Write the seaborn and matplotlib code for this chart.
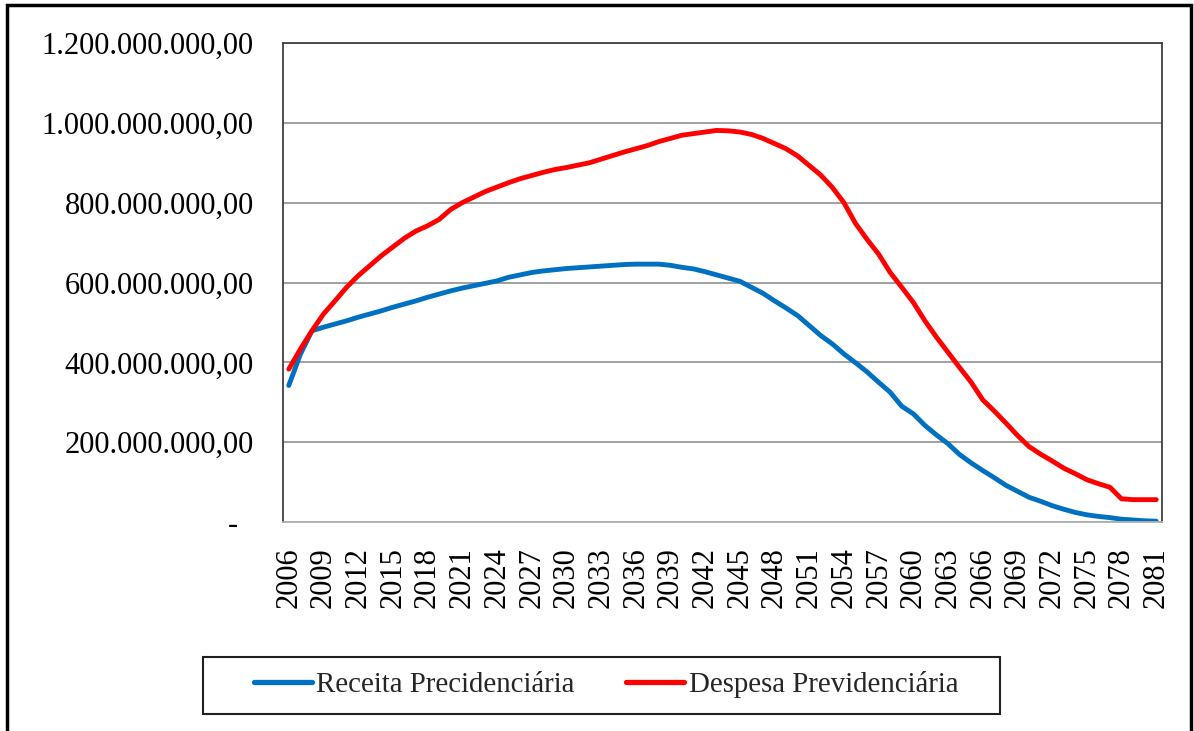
import matplotlib
matplotlib.use("Agg")
import matplotlib.pyplot as plt
import numpy as np
import pandas as pd
import seaborn as sns
from matplotlib.patches import Rectangle
from matplotlib.ticker import FuncFormatter, MultipleLocator

# Years on the category axis
years = list(range(2006, 2082))

# Receita Precidenciaria (millions of R$)
receita = [342, 420, 479, 488, 496, 504, 513, 521, 529, 538,
           546, 554, 563, 571, 579, 586, 592, 598, 604, 613,
           619, 625, 629, 632, 635, 637, 639, 641, 643, 645,
           646, 646, 646, 643, 638, 634, 627, 619, 611, 603,
           588, 573, 554, 536, 517, 492, 467, 446, 421, 399,
           376, 350, 325, 290, 271, 242, 218, 196, 169, 148,
           129, 111, 92, 77, 62, 52, 41, 32, 24, 18,
           14, 11, 7, 5, 3, 2]

# Despesa Previdenciaria (millions of R$)
despesa = [383, 433, 479, 521, 554, 588, 617, 642, 667, 689,
           711, 729, 742, 758, 783, 800, 814, 828, 839, 850,
           860, 868, 876, 883, 888, 894, 900, 909, 918, 927,
           935, 943, 953, 961, 969, 973, 977, 981, 980, 977,
           971, 961, 948, 935, 917, 893, 869, 838, 800, 748,
           708, 671, 625, 588, 550, 504, 463, 425, 387, 350,
           306, 278, 248, 217, 189, 170, 153, 135, 121, 106,
           96, 87, 58, 56, 56, 56]

series_names = ["Receita Precidenciária", "Despesa Previdenciária"]
colors = {"Receita Precidenciária": "#0070C0", "Despesa Previdenciária": "#FF0000"}

df = pd.DataFrame({
    "ano": years * 2,
    "valor": np.array(receita + despesa) * 1e6,
    "serie": [series_names[0]] * len(years) + [series_names[1]] * len(years),
})

sns.set_theme(style="white")
plt.rcParams["font.family"] = ["Liberation Serif", "DejaVu Serif"]

fig, ax = plt.subplots(figsize=(11.94, 7.31), dpi=100)
fig.subplots_adjust(left=283 / 1194, right=1162 / 1194, top=1 - 43 / 731, bottom=1 - 522 / 731)

sns.lineplot(data=df, x="ano", y="valor", hue="serie", hue_order=series_names,
             palette=colors, linewidth=3.5, ax=ax, legend=False)

ax.set_xlim(2005.5, 2081.5)
ax.set_ylim(0, 1.2e9)
ax.set_xticks(list(range(2006, 2082, 3)))
ax.yaxis.set_major_locator(MultipleLocator(2e8))


def br_money(v, pos):
    # zero is shown as a dash, like the accounting format
    if abs(v) < 1:
        return "-  "
    s = f"{v:,.2f}"
    return s.replace(",", "X").replace(".", ",").replace("X", ".")


ax.yaxis.set_major_formatter(FuncFormatter(br_money))
ax.set_xlabel("")
ax.set_ylabel("")
ax.tick_params(axis="y", length=0, pad=21, labelsize=22, colors="black")
ax.tick_params(axis="x", length=0, pad=18, labelsize=22, colors="black", rotation=90)

ax.yaxis.grid(True, color="#A0A0A0", linewidth=1.4)
ax.xaxis.grid(False)
for side in ["left", "top", "right"]:
    ax.spines[side].set_color("#404040")
    ax.spines[side].set_linewidth(1.3)
ax.spines["bottom"].set_color("#B0B0B0")
ax.spines["bottom"].set_linewidth(1.3)

# legend in a separate box, like the spreadsheet chart
handles = [plt.Line2D([], [], color=colors[n], linewidth=3.8, solid_capstyle="round") for n in series_names]
fig.legend(handles, series_names, loc="center", bbox_to_anchor=(606 / 1194, 1 - 685 / 731),
           ncol=2, frameon=False, fontsize=20.8, handlelength=2.0, handletextpad=0.15,
           columnspacing=1.8)
fig.patches.append(Rectangle((203 / 1194, 1 - 714 / 731), (1000 - 203) / 1194, 57 / 731,
                             transform=fig.transFigure, fill=False, edgecolor="#202020",
                             linewidth=1.5))

# outer border of the picture
fig.patches.append(Rectangle((7 / 1194, -0.05), (1191 - 7) / 1194, 1.05 - 5 / 731,
                             transform=fig.transFigure, fill=False, edgecolor="black",
                             linewidth=2.5, clip_on=False))

fig.savefig("out.png", dpi=100)
